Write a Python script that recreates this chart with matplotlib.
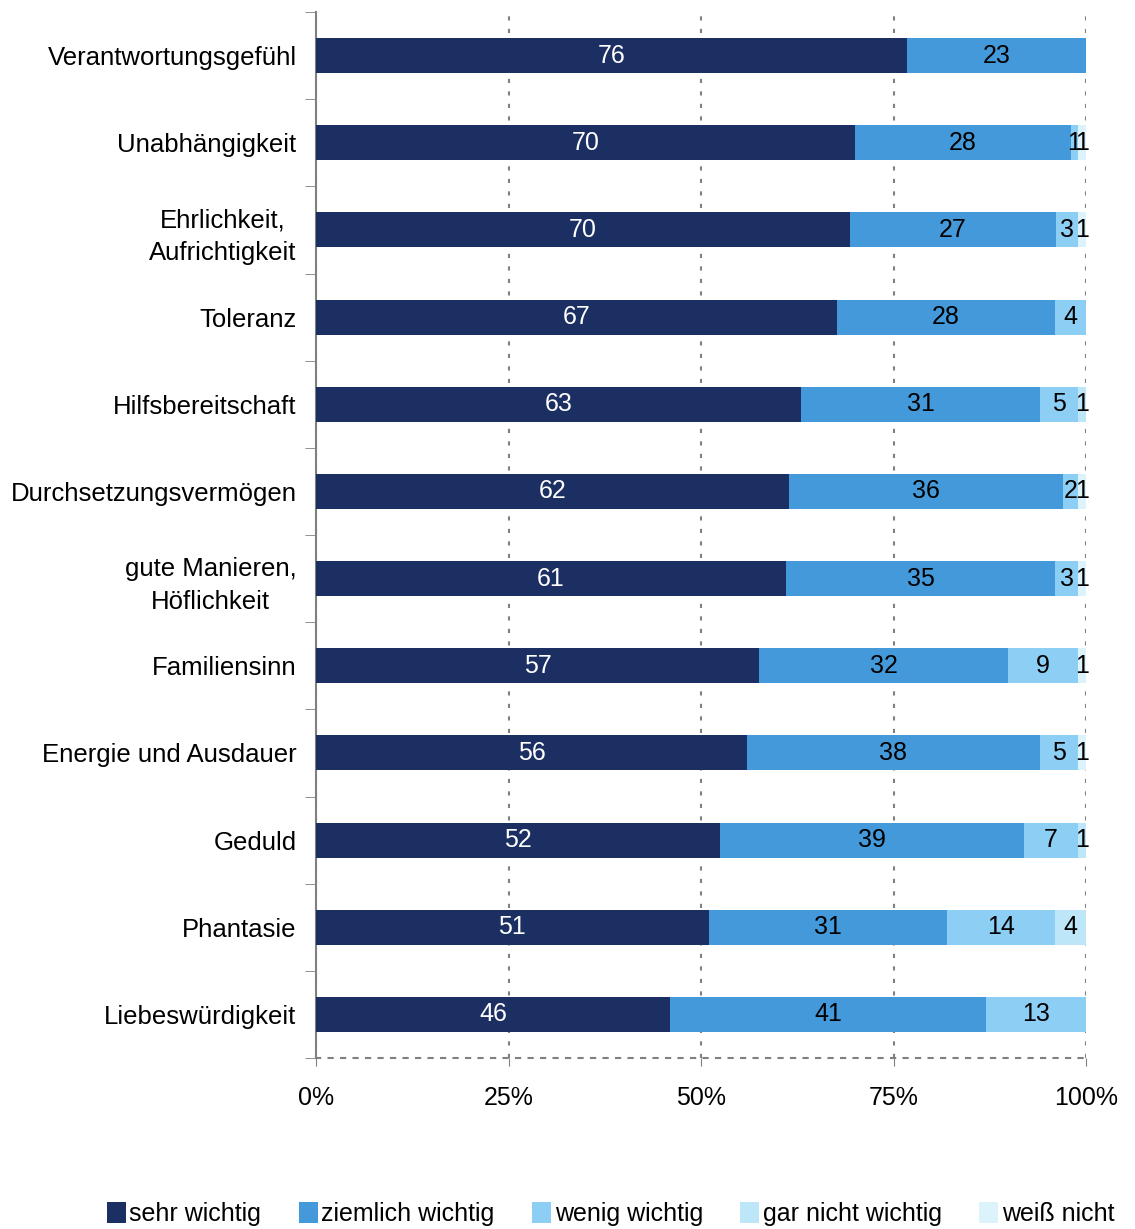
import matplotlib.pyplot as plt
import numpy as np

plt.rcParams['font.family'] = ['Liberation Sans', 'DejaVu Sans']

categories = ["Verantwortungsgefühl", "Unabhängigkeit", "Ehrlichkeit,\nAufrichtigkeit",
              "Toleranz", "Hilfsbereitschaft", "Durchsetzungsvermögen",
              "gute Manieren,\nHöflichkeit", "Familiensinn", "Energie und Ausdauer",
              "Geduld", "Phantasie", "Liebeswürdigkeit"]
sehr = [76, 70, 70, 67, 63, 62, 61, 57, 56, 52, 51, 46]
ziemlich = [23, 28, 27, 28, 31, 36, 35, 32, 38, 39, 31, 41]
wenig = [0, 1, 3, 4, 5, 2, 3, 9, 5, 7, 14, 13]
gar_nicht = [0, 0, 0, 0, 1, 0, 0, 0, 0, 1, 4, 0]
weiss_nicht = [0, 1, 1, 0, 0, 1, 1, 1, 1, 0, 0, 0]

series = [sehr, ziemlich, wenig, gar_nicht, weiss_nicht]
names = ["sehr wichtig", "ziemlich wichtig", "wenig wichtig", "gar nicht wichtig", "weiß nicht"]
colors = ["#1C2F62", "#4499DA", "#8DCEF5", "#BDE6F8", "#DDF3FC"]
text_colors = ["white", "black", "black", "black", "black"]

data = np.array(series, dtype=float)
totals = data.sum(axis=0)
shares = data / totals * 100

fig = plt.figure(figsize=(11.35, 12.29), dpi=100)
ax = fig.add_axes([316 / 1135, 1 - 1058 / 1229, 770 / 1135, 1046 / 1229])

y = np.arange(len(categories))
left = np.zeros(len(categories))
for i in range(len(series)):
    ax.barh(y, shares[i], left=left, height=0.4, color=colors[i], label=names[i], zorder=3)
    for j in range(len(categories)):
        if data[i, j] > 0:
            ax.text(left[j] + shares[i, j] / 2, y[j], str(int(data[i, j])),
                    ha='center', va='center', fontsize=18, color=text_colors[i], zorder=4)
    left = left + shares[i]

ax.set_xlim(0, 100)
ax.set_ylim(len(categories) - 0.5, -0.5)
ax.set_yticks(y)
ax.set_yticklabels(categories, fontsize=18.5, ha='right', multialignment='center',
                   linespacing=1.45)
ax.set_yticks(np.arange(-0.5, len(categories)), minor=True)
ax.tick_params(axis='y', which='major', length=0, pad=14)
ax.tick_params(axis='y', which='minor', length=8, color='#808080', direction='out')
ax.set_xticks([0, 25, 50, 75, 100])
ax.set_xticklabels(["0%", "25%", "50%", "75%", "100%"], fontsize=18)
ax.tick_params(axis='x', length=6, color='#808080', pad=14)
ax.grid(axis='x', linestyle=(0, (2, 4)), color='#808080', linewidth=1.5, zorder=0)
for s in ['top', 'right']:
    ax.spines[s].set_visible(False)
ax.spines['left'].set_color('#808080')
ax.spines['left'].set_linewidth(1.5)
ax.spines['bottom'].set_color('#808080')
ax.spines['bottom'].set_linestyle((0, (2, 4)))
ax.spines['bottom'].set_linewidth(1.5)

fig.legend(loc='lower center', bbox_to_anchor=(0.538, -0.016), ncol=5, frameon=False,
           fontsize=18, handlelength=0.75, handleheight=0.9, handletextpad=0.15,
           columnspacing=1.5)

plt.savefig("out.png", dpi=100)
